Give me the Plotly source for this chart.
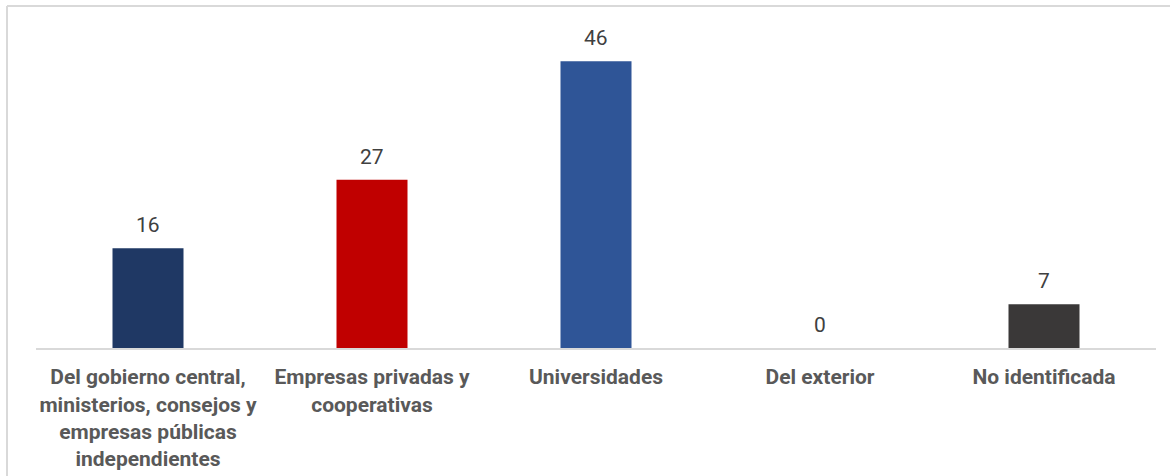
import plotly.graph_objects as go

categories = [
    "Del gobierno central,<br>ministerios, consejos y<br>empresas públicas<br>independientes",
    "Empresas privadas y<br>cooperativas",
    "Universidades",
    "Del exterior",
    "No identificada",
]
values = [16, 27, 46, 0, 7]
colors = ["#1F3864", "#C00000", "#2F5597", "#7F7F7F", "#3A3838"]

W, H = 1170, 476
ml, mr, mt, mb = 36, 14, 20, 128
ymax = 52.6

fig = go.Figure(go.Bar(
    x=categories, y=values,
    marker=dict(color=colors, line=dict(width=0)),
    width=0.317,
    hoverinfo="x+y",
))

for c, v in zip(categories, values):
    fig.add_annotation(x=c, y=v, text=str(v), showarrow=False,
                       yanchor="bottom", yshift=9,
                       font=dict(family="Roboto", size=21, color="#404040"))

pw = W - ml - mr
ph = H - mt - mb
x0 = (7 - ml) / pw
y1 = (H - mb - 6) / ph
fig.add_shape(type="line", xref="paper", yref="paper", x0=x0, x1=1.2, y0=y1, y1=y1,
              line=dict(color="#D9D9D9", width=2))
fig.add_shape(type="line", xref="paper", yref="paper", x0=x0, x1=x0, y0=y1, y1=-1,
              line=dict(color="#D9D9D9", width=2))

fig.update_layout(
    width=W, height=H,
    margin=dict(l=ml, r=mr, t=mt, b=mb, autoexpand=False),
    plot_bgcolor="white", paper_bgcolor="white",
    showlegend=False,
    xaxis=dict(showline=True, linecolor="#D9D9D9", linewidth=2, ticks="",
               ticklabelstandoff=9, automargin=False,
               tickfont=dict(family="Roboto", size=21, color="#595959", weight="bold"),
               fixedrange=True),
    yaxis=dict(range=[0, ymax], visible=False, showgrid=False, fixedrange=True,
               automargin=False),
    font=dict(family="Roboto"),
)

fig.write_html("out.html", config={"displayModeBar": False},
               post_script="document.body.style.margin='0';")
